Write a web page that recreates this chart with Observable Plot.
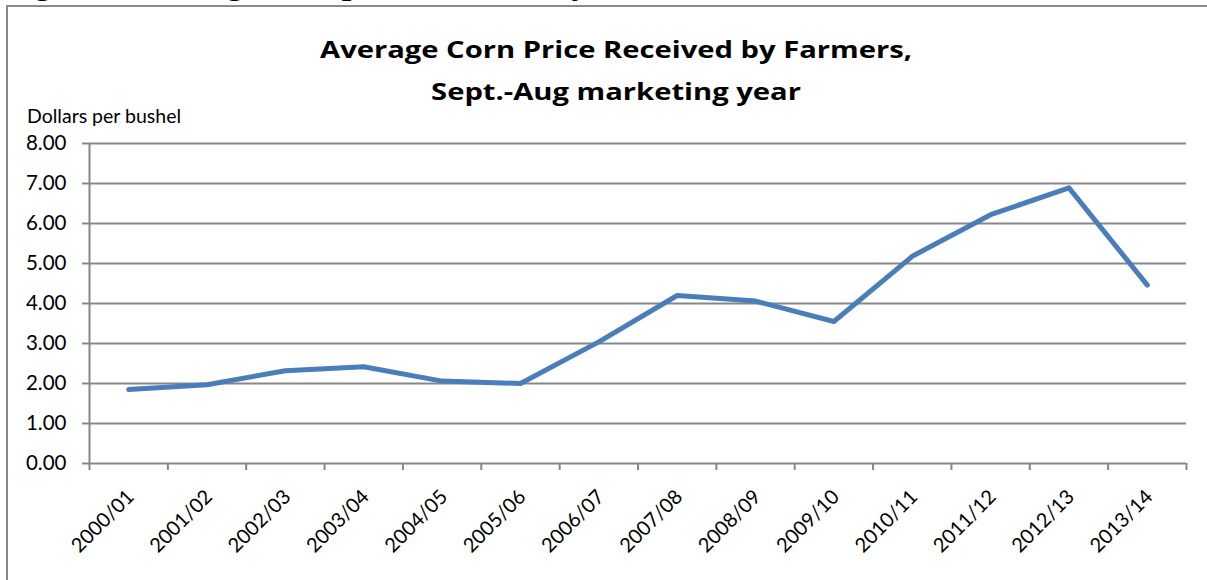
<!DOCTYPE html>
<html>
<head>
<meta charset="utf-8">
<script src="https://cdn.jsdelivr.net/npm/d3@7"></script>
<script src="https://cdn.jsdelivr.net/npm/@observablehq/plot@0.6"></script>
<style>
  html, body { margin: 0; padding: 0; background: #fff; width: 1207px; height: 580px; overflow: hidden; }
  #cut { position: absolute; left: 4px; top: -37px; font: bold 34px "Liberation Serif", serif; color: #000; white-space: nowrap; line-height: 1.15; }
  #frame { position: absolute; left: 6px; top: 5px; width: 1300px; height: 700px; border-top: 2px solid #8a8a8a; border-left: 2px solid #8a8a8a; background: #fff; }
  .title { position: absolute; left: 616px; font: bold 24px "Open Sans", sans-serif; color: #000; white-space: nowrap; transform-origin: 0 0; }
  #ylab { position: absolute; left: 27px; top: 104px; font: 19.5px Lato, sans-serif; color: #000; white-space: nowrap; }
  #chart { position: absolute; left: 0; top: 125px; }
</style>
</head>
<body>
<div id="cut">Figure 1. Average corn price received by farmers, 2000/01-2013/14</div>
<div id="frame"></div>
<div class="title" id="t1" style="top:32px">Average Corn Price Received by Farmers,</div>
<div class="title" id="t2" style="top:74px">Sept.-Aug marketing year</div>
<div id="ylab">Dollars per bushel</div>
<div id="chart"></div>
<script>
const categories = ["2000/01","2001/02","2002/03","2003/04","2004/05","2005/06","2006/07","2007/08","2008/09","2009/10","2010/11","2011/12","2012/13","2013/14"];
const prices = [1.85, 1.97, 2.32, 2.42, 2.06, 2.00, 3.04, 4.20, 4.06, 3.55, 5.18, 6.22, 6.89, 4.46];
const yTicks = [0, 1, 2, 3, 4, 5, 6, 7, 8];

// fit title width (reference line 1 is ~592px wide)
const t1 = document.getElementById("t1"), t2 = document.getElementById("t2");
const sx = 592 / t1.getBoundingClientRect().width;
for (const t of [t1, t2]) {
  const w = t.getBoundingClientRect().width;
  t.style.transform = `translateX(${-w * sx / 2}px) scaleX(${sx})`;
}

const data = categories.map((c, i) => ({i, c, v: prices[i]}));
const idx = categories.map((c, i) => i);
const bounds = [...idx.map(i => i - 0.5), categories.length - 0.5];
const gray = "#878787";

const svg = Plot.plot({
  width: 1207,
  height: 455,
  marginLeft: 89,
  marginRight: 21,
  marginTop: 18,
  marginBottom: 117,
  style: {fontFamily: "Lato, sans-serif", color: "#000", background: "transparent", overflow: "visible"},
  x: {type: "linear", domain: [-0.5, categories.length - 0.5]},
  y: {domain: [0, 8]},
  marks: [
    Plot.gridY(yTicks, {stroke: gray, strokeOpacity: 1, strokeWidth: 2}),
    Plot.axisY(yTicks, {tickSize: 7, tickPadding: 16, tickFormat: d => d.toFixed(2), fontSize: 20.5, stroke: gray, strokeWidth: 2, label: null, color: "#000"}),
    Plot.ruleX([-0.5], {y1: 0, y2: 8, stroke: gray, strokeWidth: 2}),
    Plot.axisX(bounds, {tickSize: 7, tickFormat: () => "", stroke: gray, strokeWidth: 2, label: null}),
    Plot.axisX(idx, {tickSize: 0, tickPadding: 30, tickRotate: -45, tickFormat: i => categories[i], fontSize: 20, label: null, textAnchor: "end", dx: 2}),
    Plot.line(data, {x: "i", y: "v", stroke: "#4a7ebb", strokeWidth: 5, strokeLinejoin: "round", strokeLinecap: "round"})
  ]
});
document.getElementById("chart").appendChild(svg);
</script>
</body>
</html>
